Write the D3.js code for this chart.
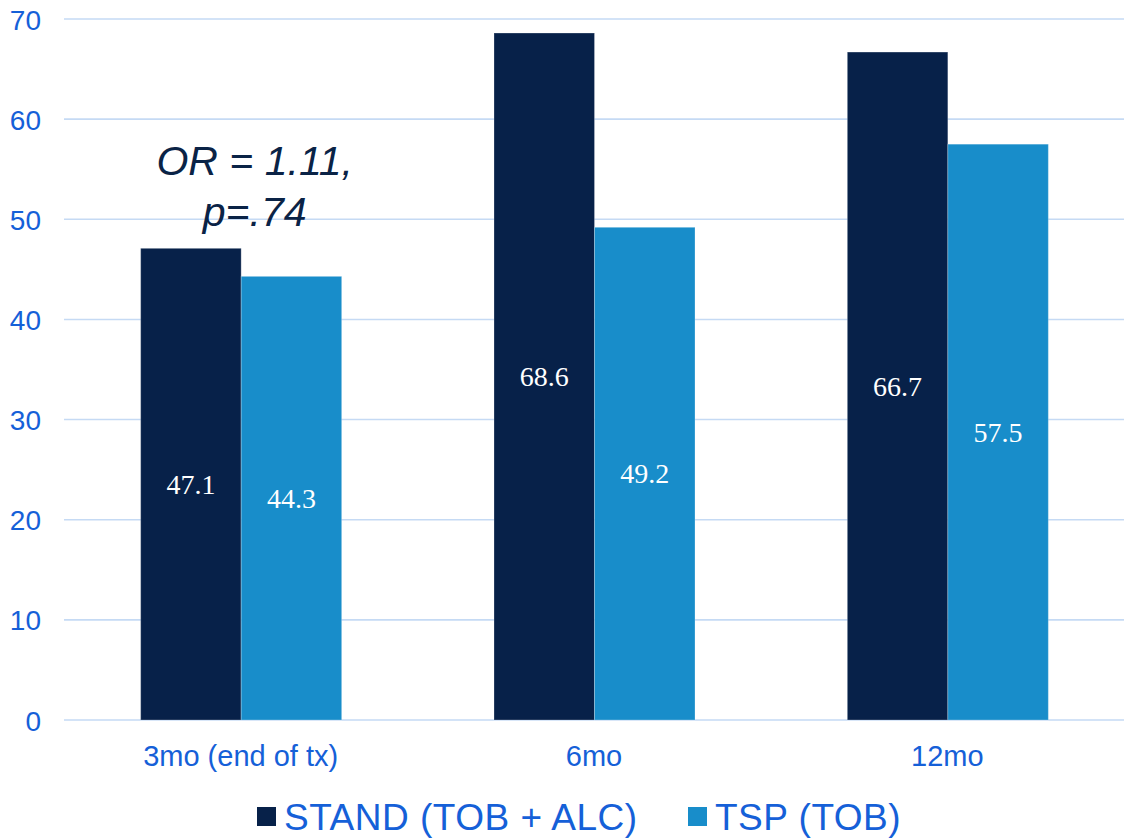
<!DOCTYPE html>
<html>
<head>
<meta charset="utf-8">
<script src="https://cdn.jsdelivr.net/npm/d3@7"></script>
<style>
  html, body { margin: 0; padding: 0; background: #fff; }
  svg { display: block; }
</style>
</head>
<body>
<svg id="chart" width="1126" height="839"></svg>
<script>
// Abstinence rates by follow-up point
const categories = ["3mo (end of tx)", "6mo", "12mo"];
const seriesNames = ["STAND (TOB + ALC)", "TSP (TOB)"];
const standValues = [47.1, 68.6, 66.7];
const tspValues = [44.3, 49.2, 57.5];
const yTicks = [0, 10, 20, 30, 40, 50, 60, 70];
const annotationLines = ["OR = 1.11,", "p=.74"];

const colors = ["#072149", "#188DCA"];
const labelBlue = "#1560D8";
const gridColor = "#C5DAF4";

const svg = d3.select("#chart");
const plot = { left: 64, right: 1124, top: 19, bottom: 720 };

const x0 = d3.scaleBand().domain(categories).range([plot.left, plot.right]).padding(0);
const x1 = d3.scaleBand().domain(seriesNames).range([0, 201]).padding(0);
const y = d3.scaleLinear().domain([0, 70]).range([plot.bottom, plot.top]);

const rows = categories.map((c, i) => ({
  category: c,
  values: [
    { series: seriesNames[0], value: standValues[i], color: colors[0] },
    { series: seriesNames[1], value: tspValues[i], color: colors[1] }
  ]
}));

// horizontal gridlines
svg.append("g")
  .selectAll("line")
  .data(yTicks)
  .join("line")
  .attr("x1", plot.left)
  .attr("x2", plot.right)
  .attr("y1", d => y(d))
  .attr("y2", d => y(d))
  .attr("stroke", gridColor)
  .attr("stroke-width", 1.6);

// y axis labels
const yAxis = d3.axisLeft(y).tickValues(yTicks).tickSize(0).tickPadding(0);
const yG = svg.append("g").attr("transform", "translate(41,0)").call(yAxis);
yG.select(".domain").remove();
yG.selectAll("text")
  .attr("fill", labelBlue)
  .attr("font-family", "Liberation Sans, Arial, sans-serif")
  .attr("font-size", 28)
  .attr("dy", "0.36em");

// x axis labels
const xAxis = d3.axisBottom(x0).tickSize(0).tickPadding(0);
const xG = svg.append("g").attr("transform", `translate(0,${plot.bottom})`).call(xAxis);
xG.select(".domain").remove();
xG.selectAll("text")
  .attr("fill", labelBlue)
  .attr("font-family", "Liberation Sans, Arial, sans-serif")
  .attr("font-size", 29)
  .attr("dy", 0)
  .attr("y", 46);

// bars
const groups = svg.append("g")
  .selectAll("g")
  .data(rows)
  .join("g")
  .attr("transform", d => `translate(${x0(d.category) + x0.bandwidth() / 2 - 100},0)`);

groups.selectAll("rect")
  .data(d => d.values)
  .join("rect")
  .attr("x", d => x1(d.series))
  .attr("width", x1.bandwidth())
  .attr("y", d => y(d.value))
  .attr("height", d => y(0) - y(d.value))
  .attr("fill", d => d.color)
  .attr("stroke", "rgba(255,255,255,0.25)")
  .attr("stroke-width", 1);

// value labels at bar mid-height
groups.selectAll("text")
  .data(d => d.values)
  .join("text")
  .attr("x", d => x1(d.series) + x1.bandwidth() / 2)
  .attr("y", d => (y(d.value) + y(0)) / 2)
  .attr("dy", "0.35em")
  .attr("text-anchor", "middle")
  .attr("fill", "#fff")
  .attr("font-family", "Liberation Serif, Times New Roman, serif")
  .attr("font-size", 28)
  .text(d => d.value.toFixed(1));

// odds-ratio note over the first group
svg.append("text")
  .attr("text-anchor", "middle")
  .attr("fill", "#0A2346")
  .attr("font-family", "Liberation Sans, Arial, sans-serif")
  .attr("font-style", "italic")
  .attr("font-size", 41)
  .selectAll("tspan")
  .data(annotationLines)
  .join("tspan")
  .attr("x", x0(categories[0]) + x0.bandwidth() / 2 + 14)
  .attr("y", (d, i) => 175 + i * 51)
  .text(d => d);

// legend
const legend = svg.append("g").attr("transform", "translate(0,817)");
const legendX = [257, 688];
const items = legend.selectAll("g")
  .data(seriesNames)
  .join("g")
  .attr("transform", (d, i) => `translate(${legendX[i]},0)`);
items.append("rect")
  .attr("x", 0)
  .attr("y", -10)
  .attr("width", 19)
  .attr("height", 19)
  .attr("fill", (d, i) => colors[i]);
items.append("text")
  .attr("x", 27)
  .attr("y", 0)
  .attr("dy", "0.36em")
  .attr("fill", labelBlue)
  .attr("font-family", "Liberation Sans, Arial, sans-serif")
  .attr("font-size", 37)
  .attr("letter-spacing", 0.5)
  .text(d => d);
</script>
</body>
</html>
